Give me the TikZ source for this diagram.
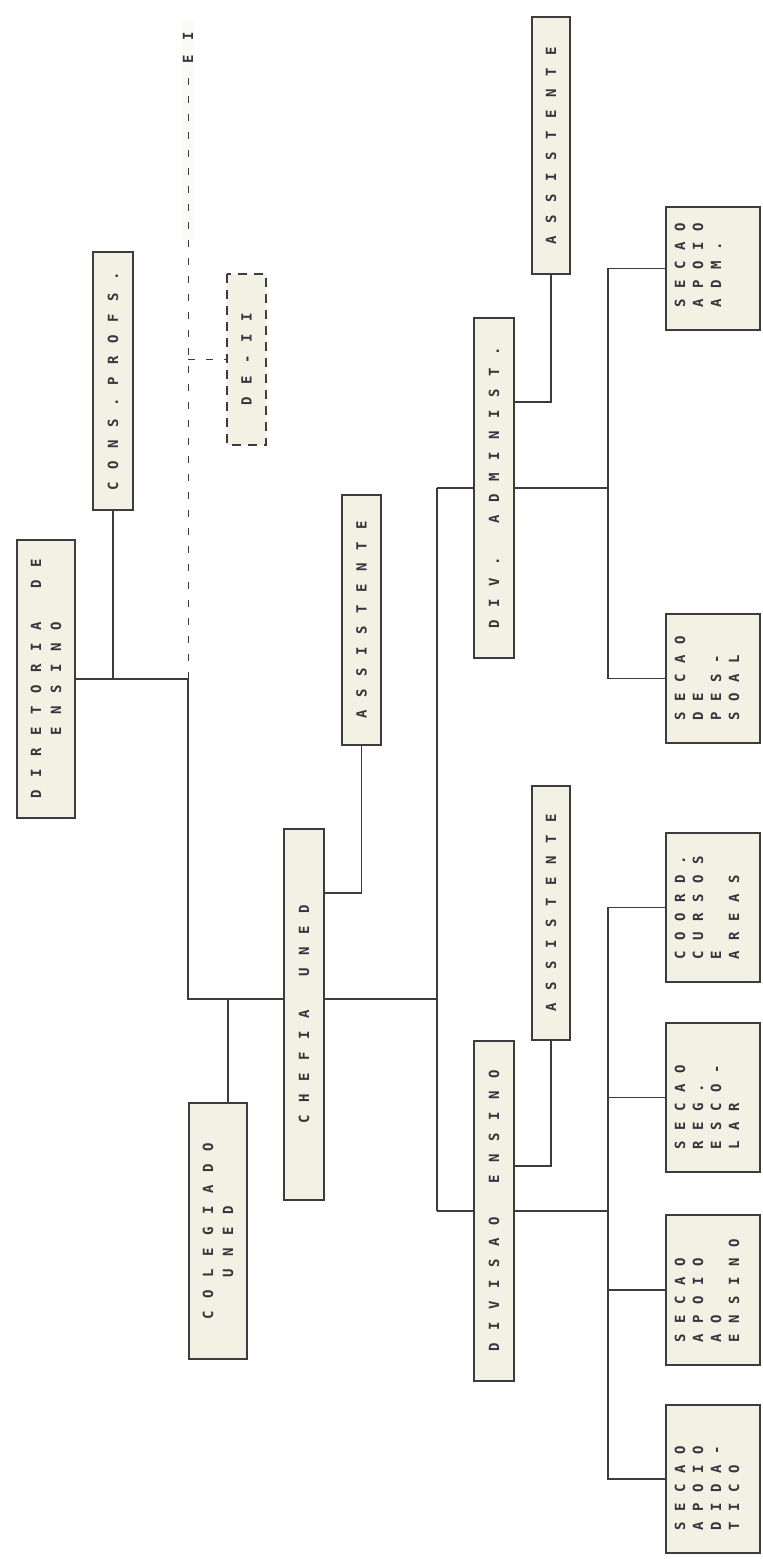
\documentclass[tikz,border=0pt]{standalone}
\usepackage{fontspec}
\newfontfamily\tw{DejaVu Sans Mono}
\definecolor{linec}{HTML}{3C3C3C}
\definecolor{boxc}{HTML}{F3F1E3}
\definecolor{textc}{HTML}{38343E}
\makeatletter
\newcommand\spaced[2]{\@tfor\spc@ch:=#2\do{\makebox[#1][c]{\spc@ch}}}
\makeatother
\newcommand\mainl[1]{\spaced{21pt}{#1}}
\newcommand\sectl[1]{\spaced{19pt}{#1}}
\tikzset{
  mainbox/.style={draw=linec, fill=boxc, line width=1.1pt, rotate=90, inner sep=0pt,
    align=left, text=textc, font=\tw\bfseries\fontsize{14}{20}\selectfont},
  dashbox/.style={mainbox, dash pattern=on 9pt off 7pt},
  secbox/.style={draw=linec, fill=boxc, line width=1.1pt, rotate=90, inner sep=0pt,
    minimum width=#1, minimum height=94pt},
  sectext/.style={rotate=90, anchor=north west, inner sep=0pt, align=left, text=textc,
    font=\tw\bfseries\fontsize{14}{18}\selectfont},
  conn/.style={draw=linec, line width=1.1pt},
  dconn/.style={draw=linec, line width=1pt, dash pattern=on 7pt off 11pt},
}
\begin{document}
\begin{tikzpicture}[x=1pt,y=-1pt]
\useasboundingbox[fill=white] (0,0) rectangle (763,1559);
\fill[boxc!35!white] (182,20) rectangle (194,240);
% main boxes
\node[mainbox, minimum width=278pt, minimum height=58pt] (dir) at (46,679) {\mainl{DIRETORIA~DE}\\\mainl{~~~ENSINO}};
\node[mainbox, minimum width=258pt, minimum height=40pt] (cons) at (113,381) {\mainl{CONS.PROFS.}};
\node[dashbox, minimum width=171pt, minimum height=39pt] (deii) at (246.5,359.5) {\mainl{DE-II}};
\node[rotate=90, inner sep=0pt, text=textc, font=\tw\bfseries\fontsize{14}{20}\selectfont] (ei) at (188,48) {\spaced{23pt}{EI}};
\node[mainbox, minimum width=256pt, minimum height=58pt] (coleg) at (218,1231) {\mainl{COLEGIADO}\\\mainl{~~UNED}};
\node[mainbox, minimum width=371pt, minimum height=40pt] (chefia) at (304,1014.5) {\mainl{CHEFIA~UNED}};
\node[mainbox, minimum width=250pt, minimum height=39pt] (as1) at (361.5,620) {\mainl{ASSISTENTE}};
\node[mainbox, minimum width=340pt, minimum height=40pt] (divadm) at (494,488) {\mainl{DIV.~ADMINIST.}};
\node[mainbox, minimum width=257pt, minimum height=38pt] (as2) at (551,145.5) {\mainl{ASSISTENTE}};
\node[mainbox, minimum width=340pt, minimum height=40pt] (divens) at (494,1211) {\mainl{DIVISAO~ENSINO}};
\node[mainbox, minimum width=254pt, minimum height=38pt] (as3) at (551,913) {\mainl{ASSISTENTE}};
% section boxes
\node[secbox=123pt] (s1) at (713,268.5) {};
\node[secbox=129pt] (s2) at (713,678.5) {};
\node[secbox=149pt] (s3) at (713,907.5) {};
\node[secbox=149pt] (s4) at (713,1097.5) {};
\node[secbox=150pt] (s5) at (713,1290) {};
\node[secbox=148pt] (s6) at (713,1479) {};
\node[sectext] (s1t) at ([shift={(9,-18)}]s1.north west) {\sectl{SECAO}\\\sectl{APOIO}\\\sectl{ADM.}};
\node[sectext] (s2t) at ([shift={(9,-18)}]s2.north west) {\sectl{SECAO}\\\sectl{DE}\\\sectl{PES-}\\\sectl{SOAL}};
\node[sectext] (s3t) at ([shift={(9,-18)}]s3.north west) {\sectl{COORD.}\\\sectl{CURSOS}\\\sectl{E}\\\sectl{AREAS}};
\node[sectext] (s4t) at ([shift={(9,-18)}]s4.north west) {\sectl{SECAO}\\\sectl{REG.}\\\sectl{ESCO-}\\\sectl{LAR}};
\node[sectext] (s5t) at ([shift={(9,-18)}]s5.north west) {\sectl{SECAO}\\\sectl{APOIO}\\\sectl{AO}\\\sectl{ENSINO}};
\node[sectext] (s6t) at ([shift={(9,-18)}]s6.north west) {\sectl{SECAO}\\\sectl{APOIO}\\\sectl{DIDA-}\\\sectl{TICO}};
% coordinates
\coordinate (dtop) at (188,78);
\coordinate (j0) at (188,679);
\coordinate (j1) at (188,999);
\coordinate (ba) at (437,488);
\coordinate (bb) at (437,1211);
\coordinate (ax) at (608,0);
\coordinate (k1) at (361.5,893);
\coordinate (k2) at (551,402);
\coordinate (k3) at (551,1166);
% connectors
\draw[conn] (dir.south) -- (j0);
\draw[conn] (cons.west) -- (cons.west |- j0);
\draw[dconn] (dtop) -- (j0);
\draw[dconn] (deii.north -| dtop) -- (deii.north);
\draw[conn] (j0) -- (j1) -- (j1 -| chefia.north);
\draw[conn] ([xshift=10pt]coleg.east) -- ([xshift=10pt]coleg.east |- j1);
\draw[conn] (j1 -| chefia.south) -- (j1 -| ba);
\draw[conn] (ba) -- (bb);
\draw[conn] (ba) -- (divadm.north);
\draw[conn] (bb) -- (divens.north);
\draw[conn] (k1 -| chefia.south) -- (k1) -- (as1.west);
\draw[conn] (k2 -| divadm.south) -- (k2) -- (as2.west);
\draw[conn] (k3 -| divens.south) -- (k3) -- (as3.west);
\draw[conn] (divadm.south) -- (divadm.south -| ax);
\draw[conn] (s1.north) -- (s1.north -| ax) -- (s2.north -| ax) -- (s2.north);
\draw[conn] (divens.south) -- (divens.south -| ax);
\draw[conn] (s3.north) -- (s3.north -| ax) -- (s6.north -| ax) -- (s6.north);
\draw[conn] (s4.north) -- (s4.north -| ax);
\draw[conn] (s5.north) -- (s5.north -| ax);
\end{tikzpicture}
\end{document}
